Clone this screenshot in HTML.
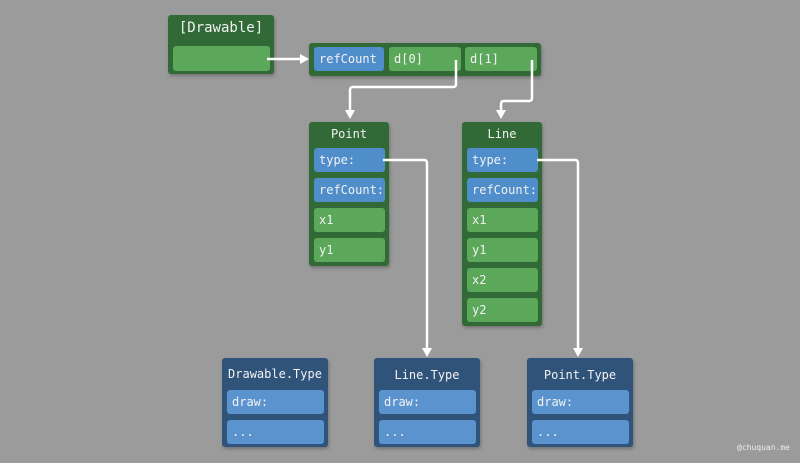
<!DOCTYPE html>
<html><head><style>
body{margin:0;width:800px;height:463px;background:#9b9b9b;position:relative;overflow:hidden;font-family:"DejaVu Sans Mono","Liberation Mono",monospace;}
.b{position:absolute;border-radius:3px;box-shadow:1px 2px 3px rgba(0,0,0,.25);}
.g{background:#316a36;}
.d{background:#30537a;}
.c{position:absolute;border-radius:3px;color:#f2f2f2;font-size:12px;line-height:25px;padding-left:5px;box-sizing:border-box;height:24px;}
.cg{background:#5ca85b;}
.cb{background:#4f8dcb;}
.cl{background:#5b93cf;}
.t{position:absolute;color:#f2f2f2;font-size:12px;text-align:center;}
</style></head><body>
<div class="b g" style="left:168px;top:15px;width:106px;height:59px"></div>
<div class="t" style="left:168px;top:20px;width:106px;font-size:14px">[Drawable]</div>
<div class="c cg" style="left:173px;top:46px;width:97px;height:25px"></div>

<div class="b g" style="left:309px;top:43px;width:232px;height:33px"></div>
<div class="c cb" style="left:314px;top:47px;width:70px">refCount</div>
<div class="c cg" style="left:389px;top:47px;width:72px">d[0]</div>
<div class="c cg" style="left:465px;top:47px;width:72px">d[1]</div>

<div class="b g" style="left:309px;top:122px;width:80px;height:144px"></div>
<div class="t" style="left:309px;top:127px;width:80px">Point</div>
<div class="c cb" style="left:314px;top:148px;width:71px">type:</div>
<div class="c cb" style="left:314px;top:178px;width:71px">refCount:</div>
<div class="c cg" style="left:314px;top:208px;width:71px">x1</div>
<div class="c cg" style="left:314px;top:238px;width:71px">y1</div>

<div class="b g" style="left:462px;top:122px;width:80px;height:204px"></div>
<div class="t" style="left:462px;top:127px;width:80px">Line</div>
<div class="c cb" style="left:467px;top:148px;width:71px">type:</div>
<div class="c cb" style="left:467px;top:178px;width:71px">refCount:</div>
<div class="c cg" style="left:467px;top:208px;width:71px">x1</div>
<div class="c cg" style="left:467px;top:238px;width:71px">y1</div>
<div class="c cg" style="left:467px;top:268px;width:71px">x2</div>
<div class="c cg" style="left:467px;top:298px;width:71px">y2</div>

<div class="b d" style="left:222px;top:358px;width:106px;height:89px"></div>
<div class="t" style="left:222px;top:367px;width:106px">Drawable.Type</div>
<div class="c cl" style="left:227px;top:390px;width:97px">draw:</div>
<div class="c cl" style="left:227px;top:420px;width:97px">...</div>

<div class="b d" style="left:374px;top:358px;width:106px;height:89px"></div>
<div class="t" style="left:374px;top:368px;width:106px">Line.Type</div>
<div class="c cl" style="left:379px;top:390px;width:97px">draw:</div>
<div class="c cl" style="left:379px;top:420px;width:97px">...</div>

<div class="b d" style="left:527px;top:358px;width:106px;height:89px"></div>
<div class="t" style="left:527px;top:368px;width:106px">Point.Type</div>
<div class="c cl" style="left:532px;top:390px;width:97px">draw:</div>
<div class="c cl" style="left:532px;top:420px;width:97px">...</div>

<div style="position:absolute;left:737px;top:443px;color:#eee;font-size:8px">@chuquan.me</div>

<svg width="800" height="463" style="position:absolute;left:0;top:0">
<g fill="none" stroke="#fff" stroke-width="2.5" stroke-linejoin="round">
<path d="M267 59 H301"/>
<path d="M456 60 V84 Q456 87 453 87 H353 Q350 87 350 90 V112"/>
<path d="M532 60 V98 Q532 101 529 101 H504 Q501 101 501 104 V112"/>
<path d="M383 160 H424 Q427 160 427 163 V350"/>
<path d="M537 160 H575 Q578 160 578 163 V350"/>
</g>
<g fill="#fff">
<path d="M309 59 L300 54 V64Z"/>
<path d="M350 119 L345 110 H355Z"/>
<path d="M501 119 L496 110 H506Z"/>
<path d="M427 357 L422 348 H432Z"/>
<path d="M578 357 L573 348 H583Z"/>
</g>
</svg>
</body></html>
